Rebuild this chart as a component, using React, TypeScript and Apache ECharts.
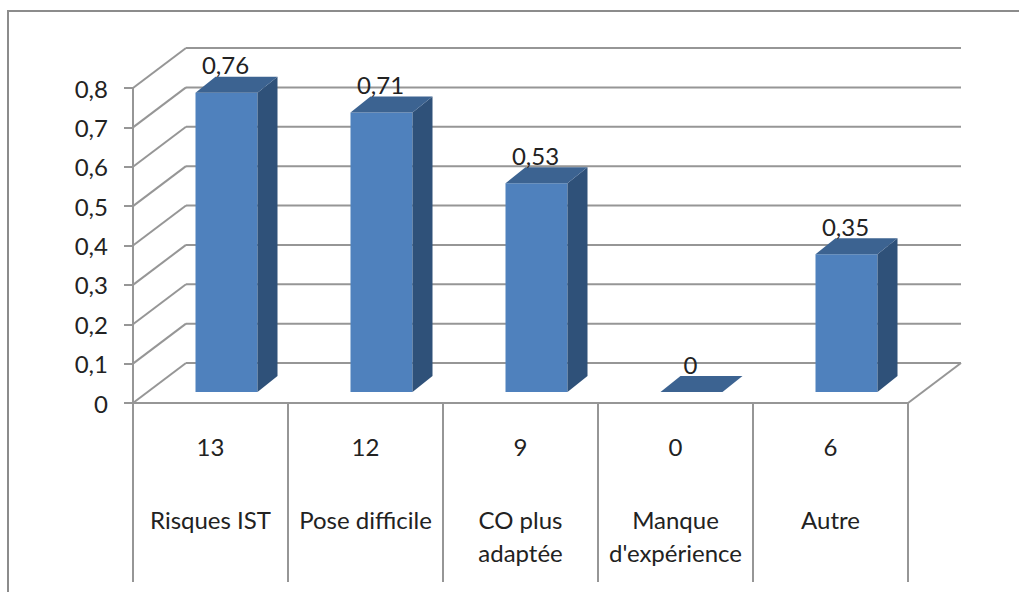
import React, { useEffect, useRef } from "react";
import * as echarts from "echarts";

const categories = ["Risques IST", "Pose difficile", "CO plus\nadaptée", "Manque\nd'expérience", "Autre"];
const counts = ["13", "12", "9", "0", "6"];
const values = [0.76, 0.71, 0.53, 0, 0.35];
const yTicks = [0, 0.1, 0.2, 0.3, 0.4, 0.5, 0.6, 0.7, 0.8];

const FONT = "Lato";
const FONT_SIZE = 24;
const TEXT = "#222222";
const LINE = "#969696";
const comma = (v: number) => String(v).replace(".", ",");

export default function App() {
  const ref = useRef<HTMLDivElement>(null);
  useEffect(() => {
    const chart = echarts.init(ref.current!, null, { renderer: "svg" });
    const wallDx = 53, wallDy = -40;
    const barDx = 20, barDy = -16;
    const barShiftX = 16, barShiftY = -11, barW = 62;

    const renderWall = (params: any, api: any) => {
      const cs = params.coordSys;
      const y = api.coord([0, api.value(1)])[1];
      const x0 = cs.x, x1 = cs.x + cs.width;
      const shape = { stroke: LINE, lineWidth: 2, fill: "none" };
      const children: any[] = [
        { type: "line", shape: { x1: x0, y1: y, x2: x0 + wallDx, y2: y + wallDy }, style: shape },
        { type: "line", shape: { x1: x0 + wallDx, y1: y + wallDy, x2: x1 + wallDx, y2: y + wallDy }, style: shape },
      ];
      if (api.value(1) === 0) {
        children.push({ type: "line", shape: { x1, y1: y, x2: x1 + wallDx, y2: y + wallDy }, style: shape });
      }
      return { type: "group", children };
    };

    const renderBar = (_params: any, api: any) => {
      const v = api.value(1);
      const c = api.coord([api.value(0), v]);
      const b = api.coord([api.value(0), 0]);
      const l = c[0] + barShiftX - barW / 2, r = l + barW;
      const t = c[1] + barShiftY, bot = b[1] + barShiftY;
      const children: any[] = [];
      if (v > 0) {
        children.push({ type: "rect", shape: { x: l, y: t, width: barW, height: bot - t }, style: { fill: "#4f81bd" } });
        children.push({ type: "polygon", shape: { points: [[r, t], [r + barDx, t + barDy], [r + barDx, bot + barDy], [r, bot]] }, style: { fill: "#2f5179" } });
      }
      children.push({ type: "polygon", shape: { points: [[l, t], [l + barDx, t + barDy], [r + barDx, t + barDy], [r, t]] }, style: { fill: "#3c6391" } });
      children.push({
        type: "text",
        style: {
          x: c[0] + barShiftX - 1, y: t - 28, text: comma(v), fill: TEXT,
          font: `${FONT_SIZE}px ${FONT}`, align: "center", verticalAlign: "middle",
        },
      });
      return { type: "group", children };
    };

    chart.setOption({
      animation: false,
      backgroundColor: "#ffffff",
      grid: { left: 133, right: 111, top: 88, bottom: 189 },
      graphic: [{
        type: "rect", silent: true, z: -1,
        shape: { x: 8, y: 11, width: 1100, height: 700 },
        style: { fill: "none", stroke: "#8c8c8c", lineWidth: 2 },
      }],
      xAxis: [
        {
          type: "category", data: counts, position: "bottom",
          axisLine: { lineStyle: { color: LINE, width: 2 } },
          axisTick: { show: true, length: 179, lineStyle: { color: LINE, width: 2 } },
          axisLabel: { interval: 0, margin: 31, fontFamily: FONT, fontSize: FONT_SIZE, color: TEXT, lineHeight: 24 },
        },
        {
          type: "category", data: categories, position: "bottom",
          axisLine: { show: false }, axisTick: { show: false },
          axisLabel: { interval: 0, margin: 100, fontFamily: FONT, fontSize: FONT_SIZE, color: TEXT, lineHeight: 33 },
        },
      ],
      yAxis: {
        type: "value", min: 0, max: 0.8, interval: 0.1,
        splitLine: { show: false },
        axisLine: { show: true, lineStyle: { color: LINE, width: 2 } },
        axisTick: { show: true, length: 9, lineStyle: { color: LINE, width: 2 } },
        axisLabel: {
          margin: 25, fontFamily: FONT, fontSize: FONT_SIZE, color: TEXT,
          formatter: (v: number) => comma(Math.round(v * 10) / 10),
        },
      },
      series: [
        {
          type: "custom", xAxisIndex: 0, yAxisIndex: 0, z: 1, clip: false,
          renderItem: renderWall, encode: { x: 0, y: 1 },
          data: yTicks.map((v) => [0, v]),
        },
        {
          type: "custom", xAxisIndex: 0, yAxisIndex: 0, z: 3, clip: false,
          renderItem: renderBar, encode: { x: 0, y: 1 },
          data: values.map((v, i) => [i, v]),
        },
      ],
    });
    return () => chart.dispose();
  }, []);
  return <div ref={ref} style={{ position: "fixed", left: 0, top: 0, width: 1019, height: 592 }} />;
}
